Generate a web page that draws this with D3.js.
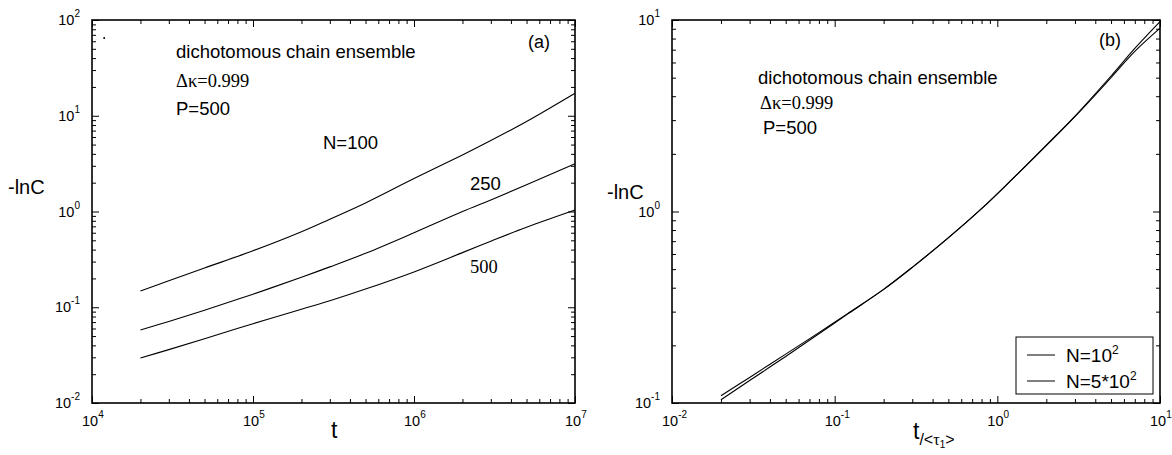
<!DOCTYPE html>
<html lang="en">
<head>
<meta charset="UTF-8">
<title>Dichotomous chain ensemble</title>
<script src="https://cdn.jsdelivr.net/npm/d3@7.9.0/dist/d3.min.js"></script>
<style>
  html, body { margin: 0; padding: 0; background: #fff; }
  svg { display: block; font-family: "Liberation Sans", Arial, sans-serif; }
  .serif { font-family: "Liberation Serif", "Times New Roman", serif; }
</style>
</head>
<body>
<div id="chart"></div>
<script>
// panel (a): -lnC against t for three chain lengths
const tA = [2e4, 3e4, 5e4, 1e5, 2e5, 3e5, 5e5, 1e6, 2e6, 3e6, 5e6, 1e7];
const lnC100 = [0.148, 0.189, 0.257, 0.389, 0.615, 0.832, 1.23, 2.21, 3.89, 5.50, 8.71, 17.2];
const lnC250 = [0.0578, 0.0711, 0.0931, 0.137, 0.206, 0.264, 0.366, 0.60, 1.0, 1.32, 1.9, 3.16];
const lnC500 = [0.0295, 0.0361, 0.0469, 0.0673, 0.0955, 0.117, 0.155, 0.234, 0.372, 0.490, 0.684, 1.035];
const strayPoint = [[1.19e4, 65]];

// panel (b): same quantity against rescaled time t/<tau1>
const tB = [0.02, 0.03, 0.05, 0.08, 0.12, 0.2, 0.3, 0.5, 0.8, 1.2, 2, 3, 5, 7, 10];
const lnCb100 = [0.109, 0.136, 0.180, 0.233, 0.293, 0.392, 0.511, 0.730, 1.035, 1.44, 2.22, 3.15, 5.10, 7.10, 9.80];
const lnCb500 = [0.104, 0.131, 0.175, 0.230, 0.291, 0.392, 0.511, 0.728, 1.035, 1.44, 2.21, 3.13, 5.00, 6.85, 9.06];

const expA_x = [4, 5, 6, 7];
const expA_y = [-2, -1, 0, 1, 2];
const expB_x = [-2, -1, 0, 1];
const expB_y = [-1, 0, 1];

const W = 1172, H = 455;
const svg = d3.select("#chart").append("svg").attr("width", W).attr("height", H);

function minorTicks(exps) {
  const out = [];
  for (let i = 0; i < exps.length - 1; i++)
    for (let k = 2; k <= 9; k++) out.push(k * Math.pow(10, exps[i]));
  return out;
}

function frame(x, y, xe, ye) {
  const g = svg.append("g");
  const [x0, x1] = x.range(), [y0, y1] = y.range();
  const majX = xe.map(e => Math.pow(10, e)), majY = ye.map(e => Math.pow(10, e));
  const minX = minorTicks(xe), minY = minorTicks(ye);
  const sides = [
    [d3.axisBottom(x), `translate(0,${y0})`, majX, minX],
    [d3.axisTop(x), `translate(0,${y1})`, majX, minX],
    [d3.axisLeft(y), `translate(${x0},0)`, majY, minY],
    [d3.axisRight(y), `translate(${x1},0)`, majY, minY]
  ];
  // ticks point into the plot: negative size
  sides.forEach(([ax, tr, maj, min]) => {
    [[maj, -7], [min, -4]].forEach(([vals, len]) => {
      const a = g.append("g").attr("transform", tr)
        .call(ax.tickValues(vals).tickSize(len).tickFormat(""));
      a.select(".domain").remove();
      a.selectAll("line").attr("stroke", "#000").attr("stroke-width", 1);
    });
  });
  g.append("rect")
    .attr("x", x0).attr("y", y1)
    .attr("width", x1 - x0).attr("height", y0 - y1)
    .attr("fill", "none").attr("stroke", "#000").attr("stroke-width", 1.6);

  // decade labels, 10 with the exponent raised
  xe.forEach(e => {
    const t = g.append("text")
      .attr("x", x(Math.pow(10, e)) - 10).attr("y", y0 + 23)
      .attr("font-size", 14.5);
    t.append("tspan").text("10");
    t.append("tspan").attr("dy", -8).attr("font-size", 10).text(e);
  });
  ye.forEach(e => {
    const t = g.append("text")
      .attr("x", x0 - 12).attr("y", y(Math.pow(10, e)) + 5)
      .attr("text-anchor", "end").attr("font-size", 14.5);
    t.append("tspan").text("10");
    t.append("tspan").attr("dy", -8).attr("font-size", 10).text(e);
  });
  return g;
}

function curve(x, y, ts, vals) {
  const line = d3.line()
    .x(d => x(d[0])).y(d => y(d[1]))
    .curve(d3.curveCatmullRom.alpha(0.5));
  svg.append("path")
    .datum(ts.map((t, i) => [t, vals[i]]))
    .attr("d", line)
    .attr("fill", "none").attr("stroke", "#000").attr("stroke-width", 1.1);
}

function label(px, py, txt, size, cls) {
  return svg.append("text").attr("x", px).attr("y", py)
    .attr("font-size", size).attr("class", cls || null).text(txt);
}

// ---- panel (a)
const xa = d3.scaleLog().domain([1e4, 1e7]).range([92, 575]);
const ya = d3.scaleLog().domain([1e-2, 1e2]).range([403, 20]);
frame(xa, ya, expA_x, expA_y);
[lnC100, lnC250, lnC500].forEach(s => curve(xa, ya, tA, s));
svg.selectAll(".stray").data(strayPoint).enter().append("circle")
  .attr("cx", d => xa(d[0])).attr("cy", d => ya(d[1])).attr("r", 1).attr("fill", "#000");

label(176, 58, "dichotomous chain ensemble", 18.5);
label(176, 87, "\u0394\u03ba=0.999", 18.5, "serif");
label(176, 115, "P=500", 18.5);
label(323, 149, "N=100", 18.5);
label(470, 190, "250", 18.5);
label(470, 273, "500", 18.5, "serif");
label(528, 48, "(a)", 18);
label(8, 194, "-lnC", 20);
label(331, 438, "t", 23);

// ---- panel (b)
const xb = d3.scaleLog().domain([1e-2, 1e1]).range([672, 1160]);
const yb = d3.scaleLog().domain([1e-1, 1e1]).range([403, 20]);
frame(xb, yb, expB_x, expB_y);
curve(xb, yb, tB, lnCb100);
curve(xb, yb, tB, lnCb500);

label(758, 84, "dichotomous chain ensemble", 18.5);
label(760, 109, "\u0394\u03ba=0.999", 18.5, "serif");
label(763, 134, "P=500", 18.5);
label(1099, 46, "(b)", 18);
label(607, 199, "-lnC", 20);

const xl = svg.append("text").attr("x", 913).attr("y", 439).attr("font-size", 23);
xl.append("tspan").text("t");
xl.append("tspan").attr("font-size", 16).attr("dy", 6).text("/<");
xl.append("tspan").attr("font-size", 16).attr("class", "serif").text("\u03c4");
xl.append("tspan").attr("font-size", 10).attr("dy", 3).text("1");
xl.append("tspan").attr("font-size", 16).attr("dy", -3).text(">");

// legend
const legendItems = ["10", "5*10"];
const lg = svg.append("g").attr("transform", "translate(1016,337)");
lg.append("rect").attr("width", 137).attr("height", 57)
  .attr("fill", "#fff").attr("stroke", "#000").attr("stroke-width", 1);
legendItems.forEach((s, i) => {
  const cy = 18 + i * 26;
  lg.append("line").attr("x1", 11).attr("x2", 39).attr("y1", cy).attr("y2", cy)
    .attr("stroke", "#000").attr("stroke-width", 1);
  const t = lg.append("text").attr("x", 50).attr("y", cy + 7).attr("font-size", 19);
  t.append("tspan").text("N=" + s);
  t.append("tspan").attr("dy", -8).attr("font-size", 12).text("2");
});
</script>
</body>
</html>
